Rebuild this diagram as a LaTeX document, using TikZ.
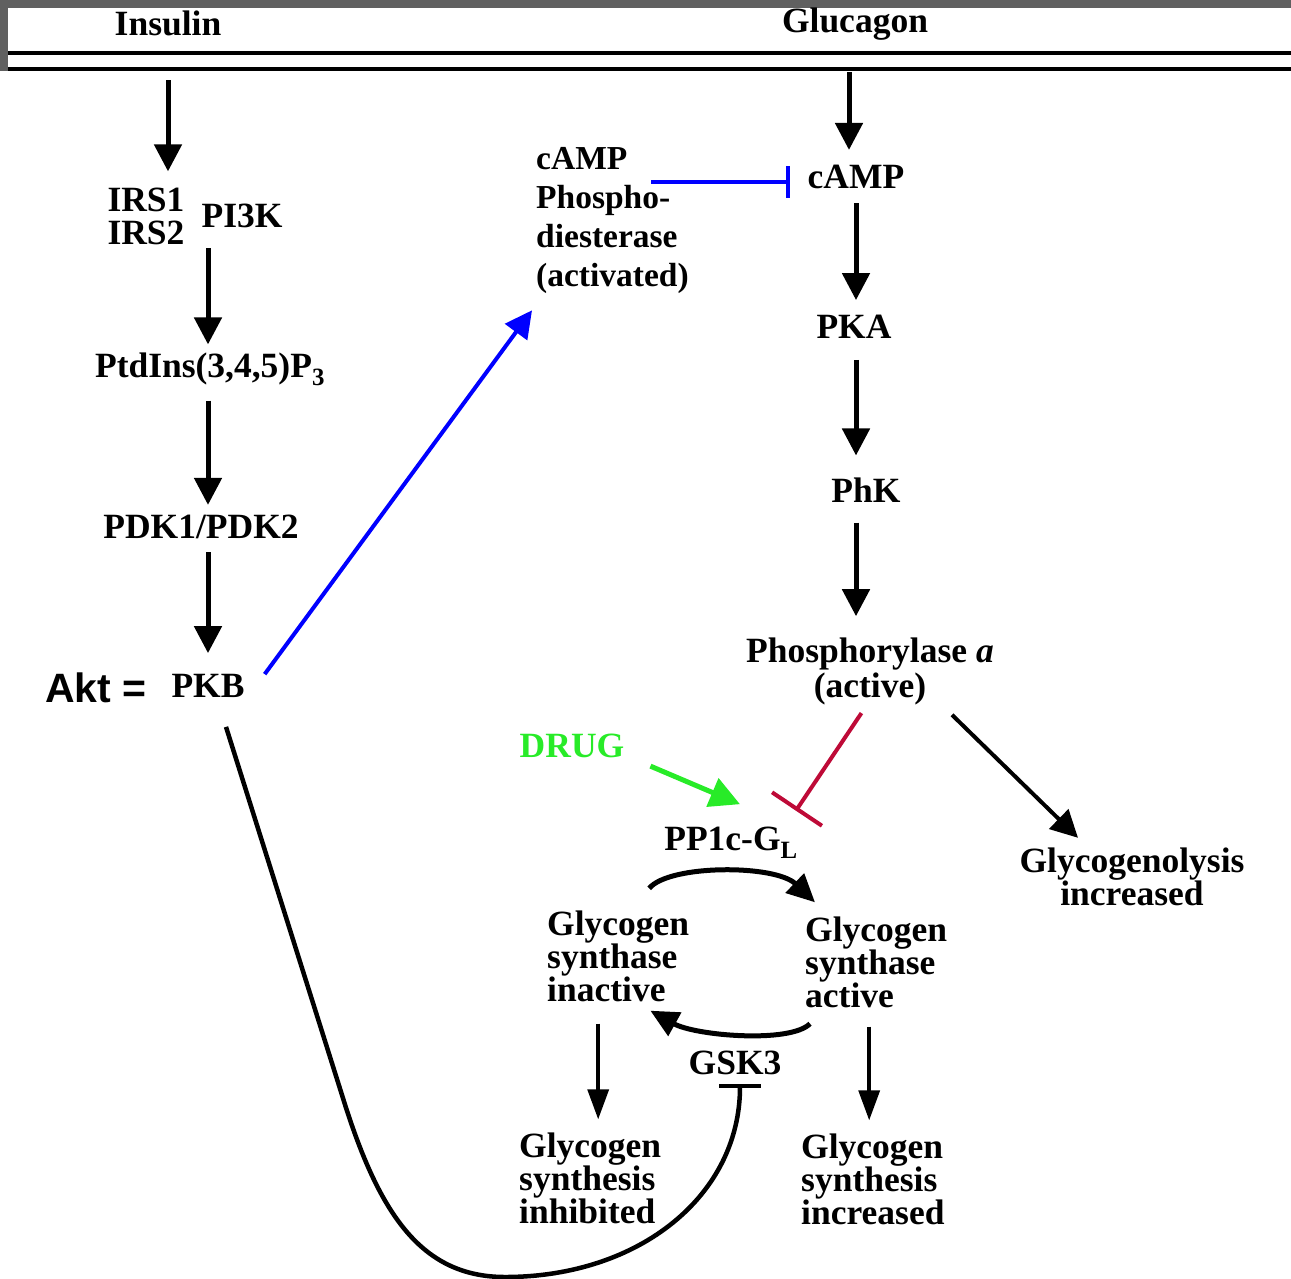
\documentclass[tikz,border=0pt]{standalone}
\usepackage{fontspec}
\setmainfont{Liberation Serif}
\newfontfamily\aktfont{Liberation Sans}
\usetikzlibrary{arrows.meta,positioning}
\definecolor{framegrey}{RGB}{96,96,96}
\definecolor{druggreen}{RGB}{40,235,40}
\definecolor{inhred}{RGB}{190,10,55}
\tikzset{
  mol/.style={font=\fontsize{35.5}{33}\selectfont\bfseries,inner sep=0pt,align=#1},
  mol/.default=center,
  act/.style={line width=5pt,-{Triangle[length=27pt,width=27pt]}},
  thin act/.style={line width=3.5pt,-{Triangle[length=30pt,width=21pt]}},
  cyc/.style={line width=5pt,-{Triangle[length=28pt,width=26pt]}},
  inh/.style={line width=4pt,-{Bar[width=#1]}},
}
\begin{document}
\begin{tikzpicture}[x=1pt,y=-1pt]
\useasboundingbox (0,0) rectangle (1291,1278);
% frame and membrane
\fill[framegrey] (0,0) rectangle (1291,8);
\fill[framegrey] (0,0) rectangle (8,71);
\draw[line width=3.5pt] (8,53) -- (1291,53);
\draw[line width=3.5pt] (8,69) -- (1291,69);
\coordinate (ml) at (168,69);
\coordinate (mr) at (849,69);

% insulin branch
\node[mol] (ins) at (168,23) {Insulin};
\node[mol] (irs) at (146,216) {IRS1\\IRS2};
\node[mol] (pik) at (242,216) {PI3K};
\node[mol] (ptd) at (210,369) {PtdIns(3,4,5)P\textsubscript{3}};
\node[mol] (pdk) at (201,527) {PDK1/PDK2};
\node[mol] (pkb) at (208,686) {PKB};
\node[font=\fontsize{41}{41}\selectfont\aktfont\bfseries,inner sep=0pt] (akt) at (96,688) {Akt =};

% glucagon branch
\node[mol] (glu) at (855,24) {Glucagon};
\node[mol] (cap) at (856,177) {cAMP};
\node[mol=left,font=\fontsize{33.5}{39}\selectfont\bfseries,anchor=west] (pde) at (536,221) {cAMP\\Phospho-\\diesterase\\(activated)};
\node[mol] (pka) at (854,327) {PKA};
\node[mol] (phk) at (866,490) {PhK};
\node[mol,font=\fontsize{35.5}{35}\selectfont\bfseries] (phos) at (870,671) {Phosphorylase \textit{a}\\(active)};
\node[mol] (gly) at (1132,877) {Glycogenolysis\\increased};

% glycogen synthase cycle
\node[mol,text=druggreen] (drug) at (572,746) {DRUG};
\node[mol] (pp1) at (731,843) {PP1c-G\textsubscript{L}};
\node[mol=left,anchor=west] (gsi) at (547,956) {Glycogen\\synthase\\inactive};
\node[mol=left,anchor=west] (gsa) at (805,962) {Glycogen\\synthase\\active};
\node[mol] (gsk) at (735,1063) {GSK3};
\node[mol=left,anchor=west] (syi) at (519,1178) {Glycogen\\synthesis\\inhibited};
\node[mol=left,anchor=west] (syc) at (801,1179) {Glycogen\\synthesis\\increased};

% insulin arrows
\draw[act,shorten <=11pt,shorten >=16pt] (ml) -- (ml |- irs.north);
\draw[act,shorten <=20pt,shorten >=8pt] ([xshift=-2pt]ptd |- pik.south) -- ([xshift=-2pt]ptd.north);
\draw[act,shorten <=15pt,shorten >=10pt] (pkb |- ptd.south) -- (pkb |- pdk.north);
\draw[act,shorten <=13pt,shorten >=21pt] (pkb |- pdk.south) -- (pkb.north);
\draw[act,blue,line width=4pt] ([xshift=20pt]pkb.north east) -- ([shift={(-4pt,-16pt)}]pde.south west);

% glucagon arrows
\coordinate (capin) at ([yshift=-5pt]cap.west);
\draw[inh=32pt,blue,shorten <=115pt,shorten >=18pt] (pde.west |- capin) -- (capin);
\draw[act,shorten <=3pt,shorten >=15pt] (mr) -- (mr |- cap.north);
\draw[act,shorten <=14pt,shorten >=15pt] (cap.south) -- (cap.south |- pka.north);
\draw[act,shorten <=21pt,shorten >=22pt] ([xshift=2pt]pka.south) -- ([xshift=2pt]pka.south |- phk.north);
\draw[act,shorten <=20pt,shorten >=21pt] ([xshift=2pt]pka.south |- phk.south) -- ([xshift=2pt]pka.south |- phos.north);
\draw[act,line width=4pt] ([shift={(-42pt,-10pt)}]phos.south east) -- ([shift={(-54pt,10pt)}]gly.north);
\draw[inh=60pt,inhred,shorten <=10pt] ([xshift=-3pt]phos.south) -- ([shift={(-2pt,16.5pt)}]pp1.north east);

% drug and cycle
\draw[act,druggreen,-{Triangle[length=30pt,width=30pt]}] ([shift={(26pt,-8pt)}]drug.south east) -- ([shift={(9pt,23pt)}]pp1.north);
\draw[cyc] ([shift={(31pt,22pt)}]gsi.north) .. controls +(20,-24) and +(-40,-38) .. ([shift={(10pt,14pt)}]gsa.north west);
\draw[cyc] ([shift={(5pt,-16pt)}]gsa.south west) .. controls +(-20,20) and +(45,25) .. ([shift={(-39pt,-9pt)}]gsi.south east);
\coordinate (gsiout) at ([xshift=-20pt]gsi.south);
\coordinate (gsaout) at ([xshift=-7pt]gsa.south);
\draw[thin act,shorten <=22pt,shorten >=13pt] (gsiout) -- (gsiout |- syi.north);
\draw[thin act,shorten <=19pt,shorten >=13pt] (gsaout) -- (gsaout |- syc.north);

% PKB inhibits GSK3
\draw[inh=42pt,line width=4.5pt] ([shift={(18pt,-29pt)}]pkb.south) -- (342,1095)
  .. controls (378,1212) and (420,1277) .. (505,1277)
  .. controls (640,1277) and (740,1195) .. ([shift={(5pt,-8.5pt)}]gsk.south);
\end{tikzpicture}
\end{document}
